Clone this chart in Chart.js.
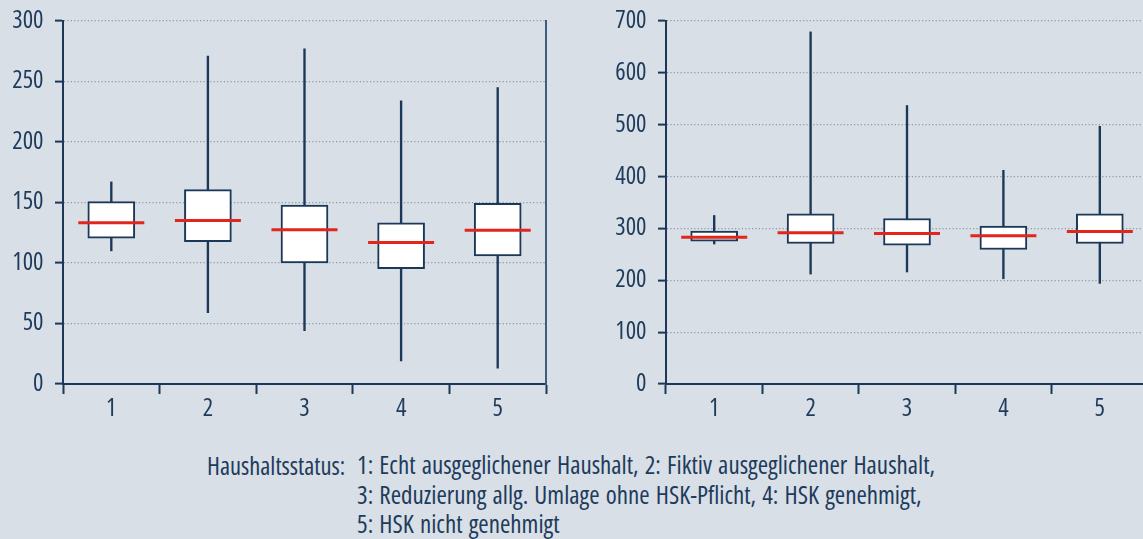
<!DOCTYPE html>
<html>
<head>
<meta charset="utf-8">
<script src="https://cdn.jsdelivr.net/npm/chart.js@4/dist/chart.umd.min.js"></script>
<style>
  html, body { margin: 0; padding: 0; width: 1143px; height: 539px; overflow: hidden; background: #d8dfe6; }
  .panel { position: absolute; top: 0; height: 430px; }
  #leftPanel { left: 0; width: 548px; }
  #rightPanel { left: 580px; width: 568px; }
  .caption { position: absolute; font-family: "Open Sans", sans-serif; font-stretch: 75%;
             font-size: 25px; line-height: 29.5px; word-spacing: 1.5px; color: #1e3b5c; white-space: nowrap; }
</style>
</head>
<body>
<div class="panel" id="leftPanel"><canvas id="leftChart"></canvas></div>
<div class="panel" id="rightPanel"><canvas id="rightChart"></canvas></div>
<div class="caption" style="left:207px; top:450.5px; font-size:24.5px; word-spacing:0;">Haushaltsstatus:</div>
<div class="caption" style="left:357px; top:450px;">1: Echt ausgeglichener Haushalt, 2: Fiktiv ausgeglichener Haushalt,<br>3: Reduzierung allg. Umlage ohne HSK-Pflicht, 4: HSK genehmigt,<br>5: HSK nicht genehmigt</div>
<script>
// Haushaltsstatus categories
const categories = ['1', '2', '3', '4', '5'];

// Left panel: box-plot statistics
const leftMin    = [110, 59, 44, 19, 13];
const leftQ1     = [120.5, 117.7, 100.1, 95.4, 105.9];
const leftMedian = [133.2, 135.1, 127.4, 116.9, 127.1];
const leftQ3     = [150.7, 160.7, 147.8, 133.2, 149.4];
const leftMax    = [167, 271, 277, 234, 245];
const leftTicks  = [0, 50, 100, 150, 200, 250, 300];

// Right panel: box-plot statistics
const rightMin    = [270, 212, 216, 203, 194];
const rightQ1     = [275.4, 270.9, 267.7, 259.3, 270.9];
const rightMedian = [283.1, 291.5, 290.2, 285.7, 294.1];
const rightQ3     = [294.7, 328.2, 319.2, 304.4, 328.2];
const rightMax    = [325, 679, 537, 412, 497];
const rightTicks  = [0, 100, 200, 300, 400, 500, 600, 700];

const NAVY = '#1c3858';
const TEXT = '#1e3b5c';
const GRID = '#8d99a6';
const RED = '#e2261c';
// condensed Open Sans (variable width axis)
const FONT = { family: '"Open Sans", sans-serif', weight: 'condensed', size: 24.5 };

function boxDatasets(mins, q1, med, q3, maxs) {
  return [
    {
      // median marks
      type: 'line',
      data: med,
      showLine: false,
      pointStyle: 'line',
      pointRadius: 33,
      pointBorderWidth: 3,
      pointBorderColor: RED,
      pointBackgroundColor: RED,
      order: 0
    },
    {
      // interquartile boxes
      type: 'bar',
      data: categories.map((c, i) => [q1[i], q3[i]]),
      backgroundColor: '#ffffff',
      borderColor: NAVY,
      borderWidth: 2,
      borderSkipped: false,
      barThickness: 47,
      grouped: false,
      order: 1
    },
    {
      // whiskers from minimum to maximum
      type: 'bar',
      data: categories.map((c, i) => [mins[i], maxs[i]]),
      backgroundColor: NAVY,
      borderWidth: 0,
      barThickness: 1.7,
      grouped: false,
      order: 2
    }
  ];
}

function makeOptions(ticks, axisWidth, withRightBorder) {
  const top = ticks[ticks.length - 1];
  const scales = {
    x: {
      offset: true,
      grid: { offset: true, drawOnChartArea: false, drawTicks: true, tickLength: 10, tickColor: NAVY, tickWidth: 2 },
      border: { color: NAVY, width: 2 },
      ticks: { color: TEXT, font: FONT, padding: 0 },
      afterFit(s) { s.height = 46; s.paddingLeft = 0; s.paddingRight = 0; }
    },
    y: {
      min: 0, max: top,
      afterBuildTicks(s) { s.ticks = ticks.map(v => ({ value: v })); },
      ticks: { color: TEXT, font: FONT, padding: 11.5 },
      grid: {
        color: c => (c.tick && c.tick.value === 0) ? 'rgba(0,0,0,0)' : GRID,
        lineWidth: 1.2,
        tickColor: NAVY, tickLength: 8, tickWidth: 2
      },
      border: { color: NAVY, width: 2, dash: [1.2, 2.2] },
      afterFit(s) { s.width = axisWidth; s.paddingTop = 0; s.paddingBottom = 0; }
    }
  };
  if (withRightBorder) {
    scales.y2 = {
      position: 'right', min: 0, max: top,
      ticks: { display: false },
      grid: { display: false, drawOnChartArea: false, drawTicks: false },
      border: { display: true, color: '#3e5e7e', width: 2 },
      afterFit(s) { s.width = 0; s.paddingTop = 0; s.paddingBottom = 0; }
    };
  }
  return {
    responsive: true,
    maintainAspectRatio: false,
    animation: false,
    events: [],
    layout: { autoPadding: false, padding: { top: 21, left: 0, right: withRightBorder ? 2 : 0, bottom: 0 } },
    plugins: { legend: { display: false }, tooltip: { enabled: false } },
    scales
  };
}

new Chart(document.getElementById('leftChart'), {
  type: 'bar',
  data: { labels: categories, datasets: boxDatasets(leftMin, leftQ1, leftMedian, leftQ3, leftMax) },
  options: makeOptions(leftTicks, 63, true)
});

new Chart(document.getElementById('rightChart'), {
  type: 'bar',
  data: { labels: categories, datasets: boxDatasets(rightMin, rightQ1, rightMedian, rightQ3, rightMax) },
  options: makeOptions(rightTicks, 86, false)
});
</script>
</body>
</html>
